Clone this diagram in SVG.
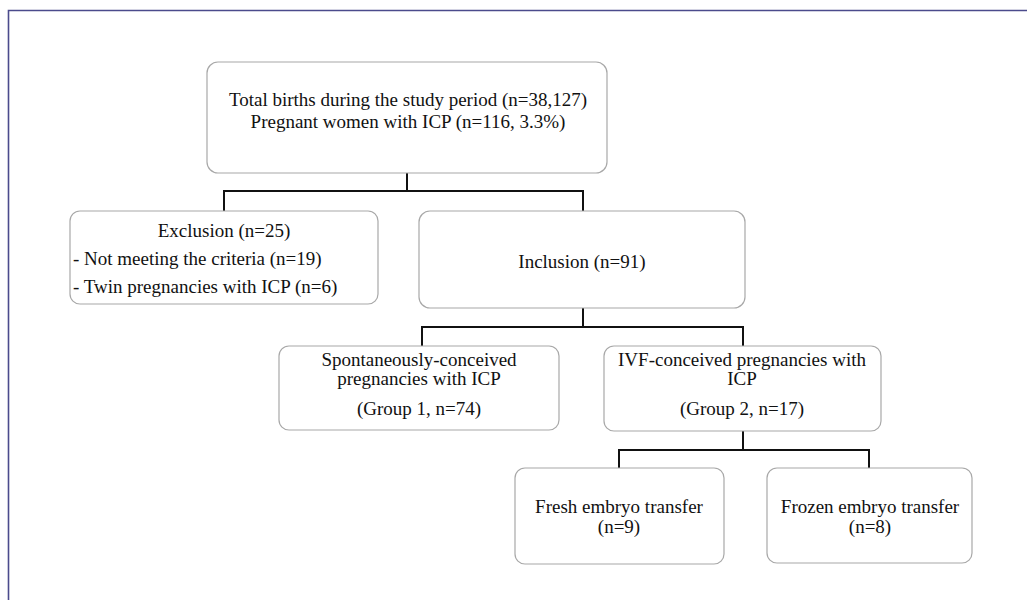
<svg xmlns="http://www.w3.org/2000/svg" width="1027" height="600" viewBox="0 0 1027 600">
<style>
.box{fill:#fff;stroke:#a8a8a8;stroke-width:1.2}
.t{font-family:"Liberation Serif","Times New Roman",serif;font-size:19px;fill:#111;text-anchor:middle}
.l{text-anchor:start}
.c{fill:none;stroke:#111;stroke-width:2}
</style>
<rect width="1027" height="600" fill="#fff"/>
<path d="M8.5 600 V10.5 H1027" fill="none" stroke="#4b4b8c" stroke-width="1.6"/>
<g id="connectors">
<path class="c" d="M407 173 V191 M224 211 V191 H583 V211"/>
<path class="c" d="M583 308 V327 M422 346 V327 H743 V346"/>
<path class="c" d="M743 431 V450 M619 468 V450 H869 V468"/>
</g>
<g id="total">
<rect class="box" x="207" y="62" width="400" height="111" rx="11"/>
<text class="t" x="408" y="106">Total births during the study period (n=38,127)</text>
<text class="t" x="408" y="128">Pregnant women with ICP (n=116, 3.3%)</text>
</g>
<g id="exclusion">
<rect class="box" x="70" y="211" width="308" height="93" rx="10"/>
<text class="t" x="224" y="237">Exclusion (n=25)</text>
<text class="t l" x="73" y="265">- Not meeting the criteria (n=19)</text>
<text class="t l" x="73" y="293">- Twin pregnancies with ICP (n=6)</text>
</g>
<g id="inclusion">
<rect class="box" x="419" y="211" width="326" height="97" rx="11"/>
<text class="t" x="582" y="268">Inclusion (n=91)</text>
</g>
<g id="group1">
<rect class="box" x="279" y="346" width="280" height="84" rx="10"/>
<text class="t" x="419" y="366">Spontaneously-conceived</text>
<text class="t" x="419" y="385">pregnancies with ICP</text>
<text class="t" x="419" y="415">(Group 1, n=74)</text>
</g>
<g id="group2">
<rect class="box" x="604" y="346" width="277" height="85" rx="10"/>
<text class="t" x="742" y="366">IVF-conceived pregnancies with</text>
<text class="t" x="742" y="385">ICP</text>
<text class="t" x="742" y="415">(Group 2, n=17)</text>
</g>
<g id="fresh">
<rect class="box" x="515" y="468" width="209" height="96" rx="10"/>
<text class="t" x="619" y="513">Fresh embryo transfer</text>
<text class="t" x="619" y="533">(n=9)</text>
</g>
<g id="frozen">
<rect class="box" x="767" y="468" width="205" height="95" rx="10"/>
<text class="t" x="870" y="513">Frozen embryo transfer</text>
<text class="t" x="870" y="533">(n=8)</text>
</g>
</svg>
